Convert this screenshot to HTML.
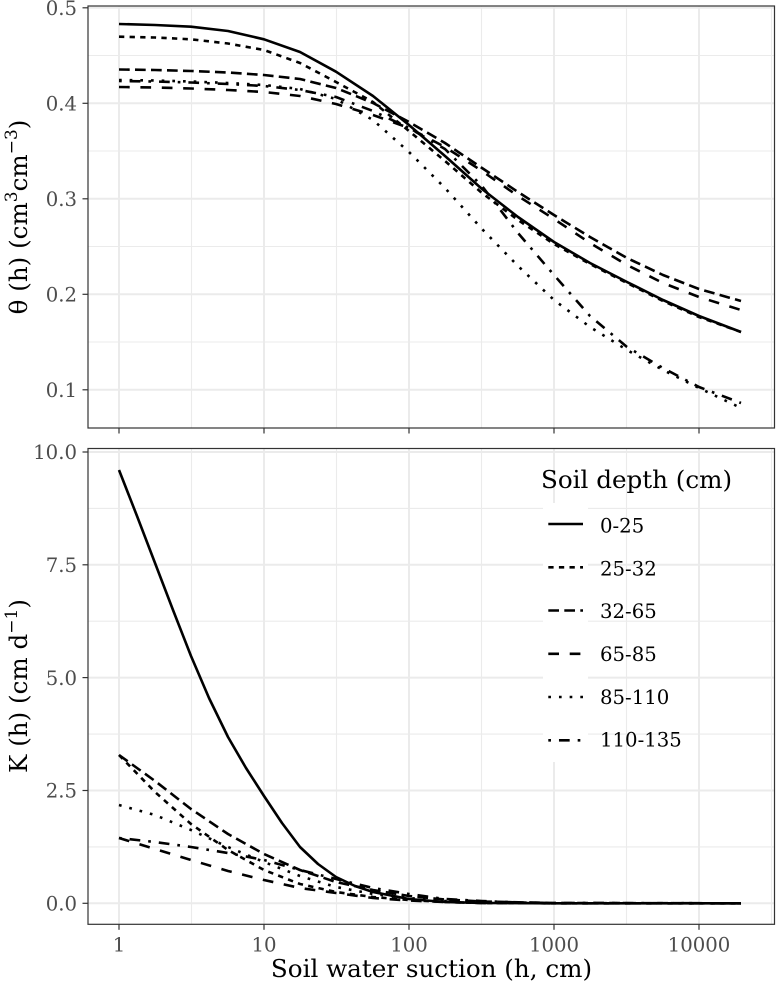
<!DOCTYPE html>
<html><head><meta charset="utf-8"><style>
html,body{margin:0;padding:0;background:#fff;}
svg{display:block;}
text{font-family:"DejaVu Serif","Liberation Serif",serif;}
.tk{font-size:19.7px;fill:#4D4D4D;}
.ttl{font-size:24.6px;fill:#000;}
.lg{font-size:19.7px;fill:#000;}
.gmaj{stroke:#EBEBEB;stroke-width:2;fill:none;}
.gmin{stroke:#EBEBEB;stroke-width:1.1;fill:none;}
.tick{stroke:#333;stroke-width:1.2;}
.ln{fill:none;stroke:#000;stroke-width:2.6;stroke-linejoin:round;stroke-linecap:butt;}
.s1{}
.s2{stroke-dasharray:5.3 5.3;}
.s3{stroke-dasharray:10.7 5.3;}
.s4{stroke-dasharray:10.7 10.7;}
.s5{stroke-dasharray:2.67 8;}
.s6{stroke-dasharray:2.67 8 10.7 8;}
</style></head><body>
<svg width="776" height="983" viewBox="0 0 776 983" xmlns="http://www.w3.org/2000/svg">
<defs>
<clipPath id="c1"><rect x="88" y="6" width="687" height="422"/></clipPath>
<clipPath id="c2"><rect x="88" y="448.5" width="687" height="476"/></clipPath>
</defs>
<rect x="0" y="0" width="776" height="983" fill="#fff"/>

<!-- TOP PANEL grid -->
<g>
<line class="gmin" x1="88" x2="775" y1="55.5" y2="55.5"/>
<line class="gmin" x1="88" x2="775" y1="151" y2="151"/>
<line class="gmin" x1="88" x2="775" y1="246.5" y2="246.5"/>
<line class="gmin" x1="88" x2="775" y1="342" y2="342"/>
<line class="gmin" x1="191.5" x2="191.5" y1="6" y2="428"/>
<line class="gmin" x1="336.5" x2="336.5" y1="6" y2="428"/>
<line class="gmin" x1="481.5" x2="481.5" y1="6" y2="428"/>
<line class="gmin" x1="626.5" x2="626.5" y1="6" y2="428"/>
<line class="gmin" x1="771.5" x2="771.5" y1="6" y2="428"/>
<line class="gmaj" x1="88" x2="775" y1="7.8" y2="7.8"/>
<line class="gmaj" x1="88" x2="775" y1="103.3" y2="103.3"/>
<line class="gmaj" x1="88" x2="775" y1="198.8" y2="198.8"/>
<line class="gmaj" x1="88" x2="775" y1="294.3" y2="294.3"/>
<line class="gmaj" x1="88" x2="775" y1="389.8" y2="389.8"/>
<line class="gmaj" x1="119" x2="119" y1="6" y2="428"/>
<line class="gmaj" x1="264" x2="264" y1="6" y2="428"/>
<line class="gmaj" x1="409" x2="409" y1="6" y2="428"/>
<line class="gmaj" x1="554" x2="554" y1="6" y2="428"/>
<line class="gmaj" x1="699" x2="699" y1="6" y2="428"/>
</g>

<!-- BOTTOM PANEL grid -->
<g>
<line class="gmin" x1="88" x2="775" y1="508.4" y2="508.4"/>
<line class="gmin" x1="88" x2="775" y1="621.2" y2="621.2"/>
<line class="gmin" x1="88" x2="775" y1="734.1" y2="734.1"/>
<line class="gmin" x1="88" x2="775" y1="846.9" y2="846.9"/>
<line class="gmin" x1="191.5" x2="191.5" y1="448.5" y2="924.3"/>
<line class="gmin" x1="336.5" x2="336.5" y1="448.5" y2="924.3"/>
<line class="gmin" x1="481.5" x2="481.5" y1="448.5" y2="924.3"/>
<line class="gmin" x1="626.5" x2="626.5" y1="448.5" y2="924.3"/>
<line class="gmin" x1="771.5" x2="771.5" y1="448.5" y2="924.3"/>
<line class="gmaj" x1="88" x2="775" y1="452" y2="452"/>
<line class="gmaj" x1="88" x2="775" y1="564.8" y2="564.8"/>
<line class="gmaj" x1="88" x2="775" y1="677.6" y2="677.6"/>
<line class="gmaj" x1="88" x2="775" y1="790.5" y2="790.5"/>
<line class="gmaj" x1="88" x2="775" y1="903.3" y2="903.3"/>
<line class="gmaj" x1="119" x2="119" y1="448.5" y2="924.3"/>
<line class="gmaj" x1="264" x2="264" y1="448.5" y2="924.3"/>
<line class="gmaj" x1="409" x2="409" y1="448.5" y2="924.3"/>
<line class="gmaj" x1="554" x2="554" y1="448.5" y2="924.3"/>
<line class="gmaj" x1="699" x2="699" y1="448.5" y2="924.3"/>
</g>

<!-- TOP PANEL data -->
<g clip-path="url(#c1)">
<polyline class="ln s1" points="119,24 155,25 191,26.7 228,31 264,39.3 300,52 336,71.7 373,96 409,125 445,156 482,189 518,217 554,242 590,263 627,282 663,300 699,316 741,332"/>
<polyline class="ln s2" points="119,36.7 155,37.5 191,39.3 228,43.5 264,50 300,63 336,82 373,102 409,131 445,161 482,193 518,220 554,244 590,264 627,283 663,301 699,317 741,332"/>
<polyline class="ln s3" points="119,69.5 155,70 191,71 228,72.5 264,75 300,79 336,88 373,103 409,122 445,143 482,168 518,192 554,215 590,237 627,258 663,275 699,289 741,301"/>
<polyline class="ln s4" points="119,87 155,87.5 191,88.5 228,90 264,92 300,96 336,104 373,115 409,128 445,147 482,171 518,196 554,219 590,243 627,265 663,283 699,297 741,310"/>
<polyline class="ln s5" points="119,80 155,80.5 191,81.5 228,83 264,85 300,89 336,99 373,120 409,152 445,188 482,229 518,266 554,300 590,327 627,350 663,370 699,388 741,408"/>
<polyline class="ln s6" points="119,81 155,81.5 191,82.5 228,84 264,86 300,90 336,97 373,111 409,128 445,149 482,186 518,233 554,275 590,316 627,347 663,368 699,387 741,403"/>
</g>

<!-- legend key backgrounds (white) -->
<rect x="543" y="503" width="45" height="259" fill="#fff"/>

<!-- BOTTOM PANEL data -->
<g clip-path="url(#c2)">
<polyline class="ln s1" points="119,470 137,516 155,563 173,610 191,656 209,698 228,737 246,768 264,796 282,823 300,847 318,864 336,877 355,886 373,892 409,899 445,902 482,903 554,903.3 741,903.3"/>
<polyline class="ln s2" points="119,755 155,792 191,824 228,850 264,870 300,884 336,892 373,897 409,900 445,902 482,903 554,903.3 741,903.3"/>
<polyline class="ln s3" points="119,755 155,781 191,809 228,834 264,854 300,870 336,882 373,890 409,896 445,899.5 482,901.5 554,903 741,903.3"/>
<polyline class="ln s4" points="119,838 155,849 191,860 228,871 264,880 300,888 336,893 373,898 409,900.5 445,902 482,903 554,903.3 741,903.3"/>
<polyline class="ln s5" points="119,805 155,815 191,830 228,847 264,862 300,876 336,887 373,894 409,898 445,901 482,902.5 554,903.2 741,903.3"/>
<polyline class="ln s6" points="119,838 155,842 191,847 228,853 264,860 300,870 336,879 373,888 409,894 445,899 482,901 518,902.5 554,903 741,903.3"/>
</g>

<!-- Legend -->
<text class="ttl" x="541" y="488">Soil depth (cm)</text>
<line class="ln s1" x1="548.3" x2="583" y1="524" y2="524"/>
<line class="ln s2" x1="548.3" x2="583" y1="567.3" y2="567.3"/>
<line class="ln s3" x1="548.3" x2="583" y1="610.5" y2="610.5"/>
<line class="ln s4" x1="548.3" x2="583" y1="653.8" y2="653.8"/>
<line class="ln s5" x1="548.3" x2="583" y1="697" y2="697"/>
<line class="ln s6" x1="548.3" x2="583" y1="740.3" y2="740.3"/>
<text class="lg" x="600" y="532.7">0-25</text>
<text class="lg" x="600" y="575.5">25-32</text>
<text class="lg" x="600" y="618">32-65</text>
<text class="lg" x="600" y="661">65-85</text>
<text class="lg" x="600" y="703.8">85-110</text>
<text class="lg" x="600" y="746.7">110-135</text>

<!-- panel borders -->
<rect x="88" y="6" width="686.5" height="422" fill="none" stroke="#333" stroke-width="1.2"/>
<rect x="88" y="448.5" width="686.5" height="475.8" fill="none" stroke="#333" stroke-width="1.2"/>

<!-- ticks -->
<g class="tick">
<line x1="82.5" x2="88" y1="7.8" y2="7.8"/>
<line x1="82.5" x2="88" y1="103.3" y2="103.3"/>
<line x1="82.5" x2="88" y1="198.8" y2="198.8"/>
<line x1="82.5" x2="88" y1="294.3" y2="294.3"/>
<line x1="82.5" x2="88" y1="389.8" y2="389.8"/>
<line x1="82.5" x2="88" y1="452" y2="452"/>
<line x1="82.5" x2="88" y1="564.8" y2="564.8"/>
<line x1="82.5" x2="88" y1="677.6" y2="677.6"/>
<line x1="82.5" x2="88" y1="790.5" y2="790.5"/>
<line x1="82.5" x2="88" y1="903.3" y2="903.3"/>
<line x1="119" x2="119" y1="428" y2="433.5"/>
<line x1="264" x2="264" y1="428" y2="433.5"/>
<line x1="409" x2="409" y1="428" y2="433.5"/>
<line x1="554" x2="554" y1="428" y2="433.5"/>
<line x1="699" x2="699" y1="428" y2="433.5"/>
<line x1="119" x2="119" y1="924.3" y2="929.8"/>
<line x1="264" x2="264" y1="924.3" y2="929.8"/>
<line x1="409" x2="409" y1="924.3" y2="929.8"/>
<line x1="554" x2="554" y1="924.3" y2="929.8"/>
<line x1="699" x2="699" y1="924.3" y2="929.8"/>
</g>

<!-- tick labels -->
<g class="tk" text-anchor="end">
<text x="77" y="15">0.5</text>
<text x="77" y="110.5">0.4</text>
<text x="77" y="206">0.3</text>
<text x="77" y="301.5">0.2</text>
<text x="77" y="397">0.1</text>
<text x="77" y="459.2">10.0</text>
<text x="77" y="572">7.5</text>
<text x="77" y="684.8">5.0</text>
<text x="77" y="797.7">2.5</text>
<text x="77" y="910.5">0.0</text>
</g>
<g class="tk" text-anchor="middle">
<text x="119" y="951.5">1</text>
<text x="264" y="951.5">10</text>
<text x="409" y="951.5">100</text>
<text x="554" y="951.5">1000</text>
<text x="699" y="951.5">10000</text>
</g>

<!-- axis titles -->
<text class="ttl" x="431.5" y="977" text-anchor="middle">Soil water suction (h, cm)</text>
<text class="ttl" text-anchor="middle" transform="translate(27,217) rotate(-90)">θ (h) (cm<tspan font-size="17" dy="-10">3</tspan><tspan dy="10">cm</tspan><tspan font-size="17" dy="-10">−3</tspan><tspan dy="10">)</tspan></text>
<text class="ttl" text-anchor="middle" transform="translate(27,686) rotate(-90)">K (h) (cm d<tspan font-size="17" dy="-10">−1</tspan><tspan dy="10">)</tspan></text>
</svg>
</body></html>
